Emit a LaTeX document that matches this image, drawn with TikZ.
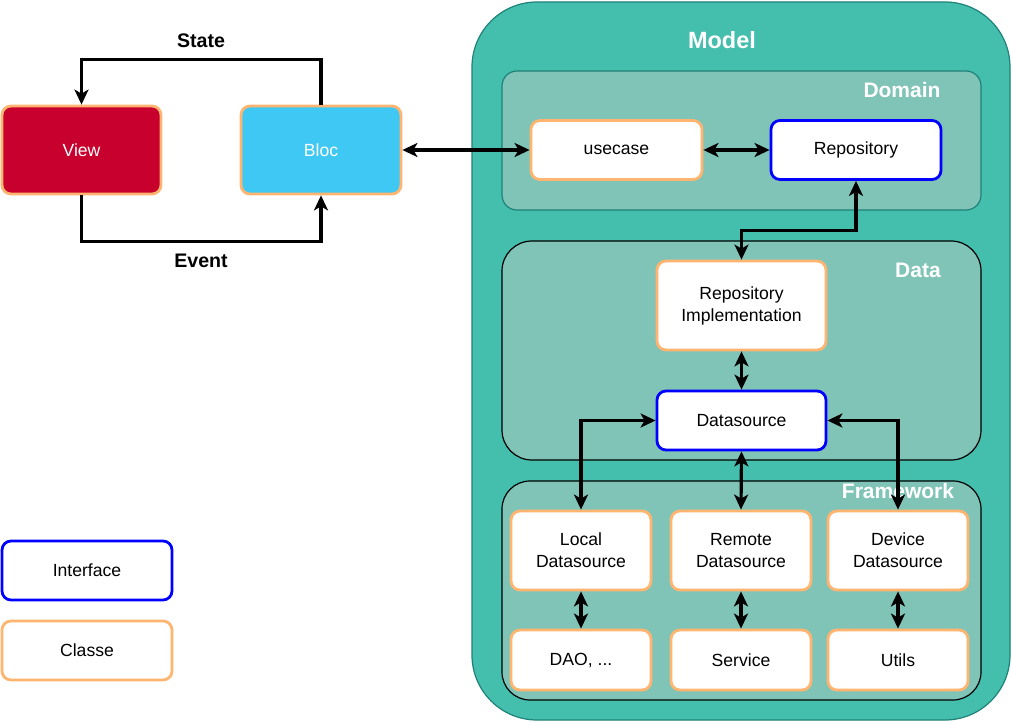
\documentclass[tikz,border=0pt]{standalone}
\usepackage{fontspec}
\setmainfont{Liberation Sans}
\usepackage{xcolor}
\usetikzlibrary{arrows.meta}

\definecolor{modelteal}{RGB}{68,190,173}
\definecolor{modeledge}{RGB}{30,130,120}
\definecolor{layerteal}{RGB}{128,195,183}
\definecolor{classe}{RGB}{255,181,112}
\definecolor{viewred}{RGB}{200,0,46}
\definecolor{blocblue}{RGB}{64,200,244}

\tikzset{
  box/.style={rounded corners=9pt, line width=2.8pt, fill=white, inner sep=0pt,
    align=center, font=\fontsize{17.6}{22}\selectfont},
  cls/.style={box, draw=classe},
  intf/.style={box, draw=blue},
  layer/.style={fill=layerteal, line width=1.2pt},
  title/.style={font=\fontsize{21}{25}\selectfont\bfseries, text=white},
  flow/.style={line width=3.2pt, {Stealth[length=15pt,width=14pt,inset=4pt]}-{Stealth[length=15pt,width=14pt,inset=4pt]}},
  oneway/.style={line width=3.2pt, -{Stealth[length=15pt,width=14pt,inset=4pt]}}
}

\begin{document}
\begin{tikzpicture}[x=1pt,y=-1pt]
  \useasboundingbox (0,0) rectangle (1013,722);

  % containers
  \draw[fill=modelteal, draw=modeledge, line width=1.2pt, rounded corners=65pt] (472,2) rectangle (1010,720);
  \draw[layer, draw=modeledge, rounded corners=15pt] (502,71) rectangle (981,210);
  \draw[layer, draw=black, rounded corners=30pt] (502,241) rectangle (981,460);
  \draw[layer, draw=black, rounded corners=28pt] (502,481) rectangle (981,700);

  \node[title, font=\fontsize{23.5}{28}\selectfont\bfseries] (model) at (722,40) {Model};
  \node[title] (domain) at (902,90) {Domain};
  \node[title] (data) at (918,270) {Data};

  % bloc side
  \node[cls, fill=viewred, text=white, minimum width=159pt, minimum height=88pt] (view) at (81.5,150) {View};
  \node[cls, fill=blocblue, text=white, minimum width=160pt, minimum height=88pt] (bloc) at (321,150) {Bloc};
  \node[font=\fontsize{19.6}{24}\selectfont\bfseries] (state) at (201,41) {State};
  \node[font=\fontsize{19.6}{24}\selectfont\bfseries] (event) at (201,261) {Event};

  % domain / data
  \node[cls, minimum width=171pt, minimum height=59pt] (usecase) at (616.5,150) {usecase};
  \node[intf, minimum width=170pt, minimum height=59pt] (repo) at (856,150) {Repository};
  \node[cls, minimum width=169pt, minimum height=89pt] (impl) at (741.5,305.5) {Repository\\Implementation};
  \node[intf, minimum width=169pt, minimum height=59pt] (ds) at (741.5,420.5) {Datasource};

  % framework
  \node[cls, minimum width=140pt, minimum height=79pt] (local) at (581,550.5) {Local\\Datasource};
  \node[cls, minimum width=140pt, minimum height=79pt] (remote) at (741,550.5) {Remote\\Datasource};
  \node[cls, minimum width=140pt, minimum height=79pt] (device) at (898,550.5) {Device\\Datasource};
  \node[cls, minimum width=140pt, minimum height=60pt] (dao) at (581,660) {DAO, ...};
  \node[cls, minimum width=140pt, minimum height=60pt] (service) at (741,660) {Service};
  \node[cls, minimum width=140pt, minimum height=60pt] (utils) at (898,660) {Utils};
  \node[title] (framework) at (898,491) {Framework};

  % legend
  \node[intf, minimum width=170pt, minimum height=59pt] (iface) at (87,570.5) {Interface};
  \node[cls, minimum width=170pt, minimum height=59pt] (classe) at (87,650.5) {Classe};

  % connectors
  \draw[oneway] (bloc.north) -- ++(0,-45) -| (view.north);
  \draw[oneway] (view.south) -- ++(0,46) -| (bloc.south);
  \draw[flow] (bloc.east) -- (usecase.west);
  \draw[flow] (usecase.east) -- (repo.west);
  \draw[flow] (repo.south) -- ++(0,50) -| (impl.north);
  \draw[flow] (impl.south) -- (ds.north);
  \draw[flow] (ds.west) -| (local.north);
  \draw[flow] (ds.south) -- (remote.north);
  \draw[flow] (ds.east) -| (device.north);
  \draw[flow] (local.south) -- (dao.north);
  \draw[flow] (remote.south) -- (service.north);
  \draw[flow] (device.south) -- (utils.north);
\end{tikzpicture}
\end{document}
